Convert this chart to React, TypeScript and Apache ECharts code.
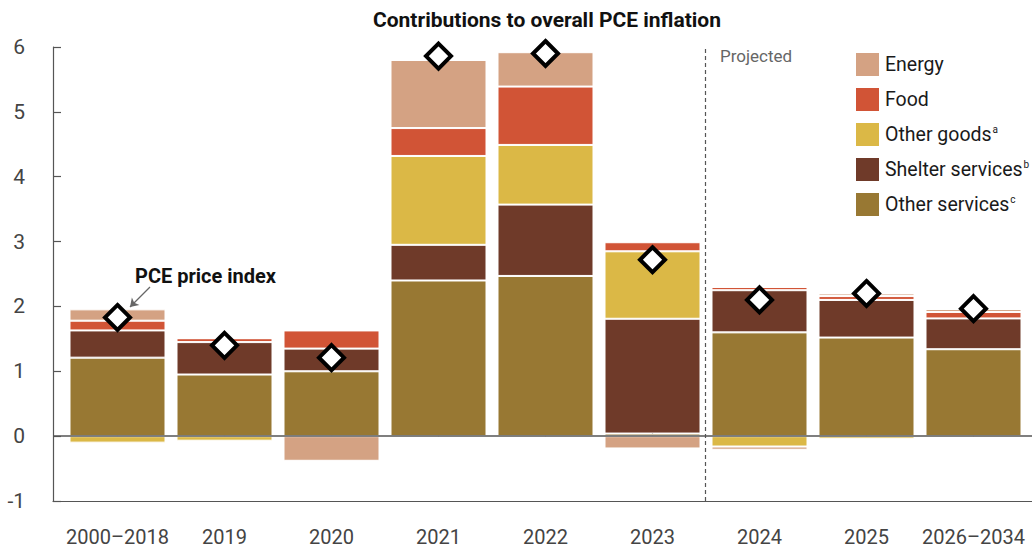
import React, { useEffect, useRef } from "react";
import * as echarts from "echarts";

const categories = ["2000–2018", "2019", "2020", "2021", "2022", "2023", "2024", "2025", "2026–2034"];
const otherServices = [1.21, 0.95, 1.0, 2.4, 2.47, 0.04, 1.6, 1.52, 1.34];
const shelterServices = [0.42, 0.5, 0.35, 0.55, 1.1, 1.77, 0.65, 0.58, 0.475];
const otherGoods = [-0.1, -0.07, 0, 1.37, 0.92, 1.04, -0.16, -0.04, 0];
const food = [0.15, 0.06, 0.28, 0.43, 0.9, 0.14, 0.05, 0.06, 0.1];
const energy = [0.175, 0, -0.38, 1.05, 0.53, -0.19, -0.05, 0.04, 0.045];
const pce = [1.83, 1.4, 1.21, 5.86, 5.9, 2.72, 2.1, 2.2, 1.965];
const yTicks = [-1, 0, 1, 2, 3, 4, 5, 6];

const colors = {
  energy: "#D4A283",
  food: "#D15436",
  otherGoods: "#DBB846",
  shelter: "#6F3A29",
  otherServices: "#987833",
};

const FONT = "Roboto, 'Liberation Sans', sans-serif";
const AXIS = "#555";

export default function App() {
  const ref = useRef<HTMLDivElement>(null);
  useEffect(() => {
    if (!ref.current) return;
    const chart = echarts.init(ref.current, undefined, { renderer: "svg" });
    const mk = (name: string, vals: number[], color: string) => ({
      name,
      type: "bar",
      stack: "total",
      xAxisIndex: 0,
      yAxisIndex: 0,
      barWidth: 96,
      data: vals,
      itemStyle: { color, borderColor: "#fff", borderWidth: 1 },
      emphasis: { disabled: true },
    });
    const supers: Record<string, string> = {
      "Other goods": "a",
      "Shelter services": "b",
      "Other services": "c",
    };
    chart.setOption({
      animation: false,
      title: {
        text: "Contributions to overall PCE inflation",
        left: 373,
        top: 9,
        padding: 0,
        textStyle: { fontFamily: FONT, fontWeight: "bold", fontSize: 21, color: "#111" },
      },
      legend: {
        orient: "vertical",
        left: 856,
        top: 53,
        padding: 0,
        itemWidth: 23,
        itemHeight: 23,
        itemGap: 12,
        icon: "rect",
        selectedMode: false,
        data: ["Energy", "Food", "Other goods", "Shelter services", "Other services"],
        itemStyle: { borderWidth: 0 },
        formatter: (name: string) =>
          supers[name] ? `{n|${name}}{s|${supers[name]}}` : `{n|${name}}`,
        textStyle: {
          fontFamily: FONT,
          fontSize: 19.5,
          color: "#1a1a1a",
          rich: {
            n: { fontFamily: FONT, fontSize: 19.5, color: "#1a1a1a", padding: [0, 0, 0, 1] },
            s: { fontFamily: FONT, fontSize: 10, color: "#1a1a1a", padding: [0, 0, 10, 1] },
          },
        },
      },
      grid: [
        { left: 64, right: 5, top: 47, bottom: 49, containLabel: false },
        { left: 53, right: 0, top: 47, bottom: 49, containLabel: false },
      ],
      xAxis: [
        {
          type: "category",
          gridIndex: 0,
          data: categories,
          axisLine: { show: false },
          axisTick: {
            show: true,
            inside: true,
            length: 7,
            alignWithLabel: true,
            interval: 0,
            lineStyle: { color: AXIS, width: 1.2 },
          },
          axisLabel: {
            interval: 0,
            margin: 26,
            fontFamily: FONT,
            fontSize: 20,
            color: "#444",
          },
        },
        {
          type: "value",
          gridIndex: 1,
          min: -0.598,
          max: 8.551,
          splitLine: { show: false },
          axisLine: { show: true, onZero: false, lineStyle: { color: AXIS, width: 1.2 } },
          axisTick: { show: false },
          axisLabel: { show: false },
        },
      ],
      yAxis: [
        {
          type: "value",
          gridIndex: 0,
          min: -1,
          max: 6,
          interval: 1,
          show: false,
        },
        {
          type: "value",
          gridIndex: 1,
          min: -1,
          max: 6,
          interval: 1,
          splitLine: { show: false },
          axisLine: { show: true, onZero: false, lineStyle: { color: AXIS, width: 1.2 } },
          axisTick: { show: true, inside: true, length: 8, lineStyle: { color: AXIS, width: 1.2 } },
          axisLabel: {
            margin: 28,
            fontFamily: FONT,
            fontSize: 21,
            color: "#444",
            formatter: (v: number) => (yTicks.includes(v) ? String(v) : ""),
          },
        },
      ],
      series: [
        mk("Other services", otherServices, colors.otherServices),
        mk("Shelter services", shelterServices, colors.shelter),
        mk("Other goods", otherGoods, colors.otherGoods),
        mk("Food", food, colors.food),
        mk("Energy", energy, colors.energy),
        {
          name: "PCE price index",
          type: "scatter",
          xAxisIndex: 0,
          yAxisIndex: 0,
          symbol: "diamond",
          symbolSize: 25,
          z: 5,
          data: pce,
          itemStyle: { color: "#fff", borderColor: "#000", borderWidth: 4, opacity: 1 },
          emphasis: { disabled: true },
        },
        {
          name: "guides",
          type: "line",
          xAxisIndex: 1,
          yAxisIndex: 1,
          data: [],
          z: 4,
          silent: true,
          markLine: {
            silent: true,
            symbol: "none",
            label: { show: false },
            data: [
              { yAxis: 0, lineStyle: { color: AXIS, width: 1.5, type: "solid" } },
              { xAxis: 5.5, lineStyle: { color: AXIS, width: 1.2, type: [4, 3] } },
              [
                { x: 150, y: 287, symbol: "none" },
                { x: 130, y: 307, symbol: "arrow", symbolSize: 8 },
              ],
            ],
            lineStyle: { color: "#666", width: 1.2, type: "solid" },
          },
        },
      ],
      graphic: [
        {
          type: "text",
          left: 135,
          top: 266,
          style: {
            text: "PCE price index",
            fontFamily: FONT,
            fontWeight: "bold",
            fontSize: 20,
            fill: "#111",
          },
        },
        {
          type: "text",
          left: 720,
          top: 47,
          style: { text: "Projected", fontFamily: FONT, fontSize: 17, fill: "#666" },
        },
      ],
    });
    return () => chart.dispose();
  }, []);
  return (
    <div
      ref={ref}
      style={{ position: "fixed", left: 0, top: 0, width: 1032, height: 550, background: "#fff" }}
    />
  );
}
